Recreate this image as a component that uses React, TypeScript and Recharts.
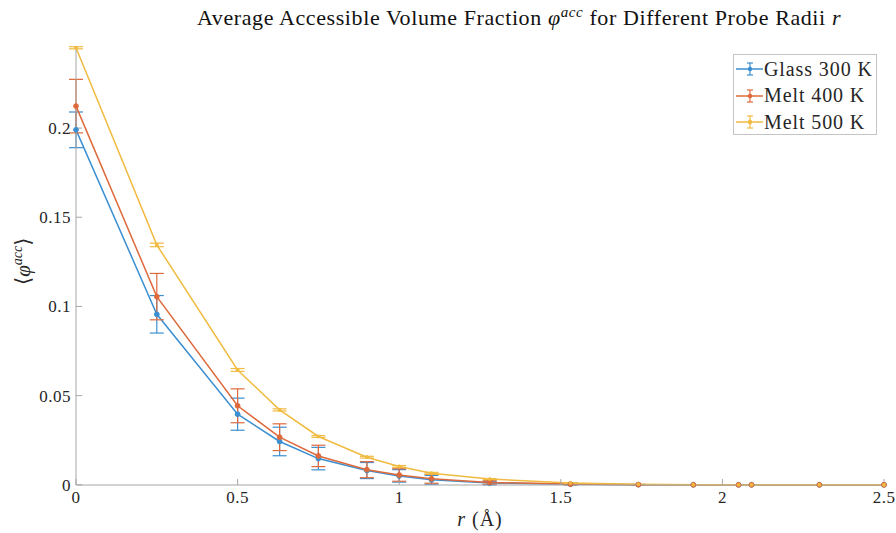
import React from "react";
import { LineChart, Line, XAxis, YAxis, ErrorBar } from "recharts";

// probe radii (Å)
const radii = [0, 0.25, 0.5, 0.63, 0.75, 0.9, 1.0, 1.1, 1.28, 1.53, 1.74, 1.91, 2.05, 2.09, 2.3, 2.5];

const glass300 = [0.199, 0.0956, 0.0396, 0.0243, 0.0147, 0.008, 0.005, 0.0028, 0.001, 0.0003, 0.0001, 0, 0, 0, 0, 0];
const glass300Err = [0.01, 0.0105, 0.009, 0.008, 0.0063, 0.0045, 0.0035, 0.0025, 0.001, 0.0004, 0.0001, 0, 0, 0, 0, 0];

const melt400 = [0.2123, 0.1055, 0.0443, 0.0267, 0.0162, 0.0085, 0.0055, 0.0034, 0.0013, 0.0004, 0.0001, 0, 0, 0, 0, 0];
const melt400Err = [0.015, 0.013, 0.0095, 0.0075, 0.006, 0.0045, 0.0035, 0.0025, 0.001, 0.0004, 0.0001, 0, 0, 0, 0, 0];

const melt500 = [0.245, 0.1345, 0.0644, 0.042, 0.0271, 0.0155, 0.0103, 0.0065, 0.0032, 0.001, 0.0003, 0.0001, 0, 0, 0, 0];
const melt500Err = [0.0006, 0.001, 0.0008, 0.0006, 0.0005, 0.0005, 0.0005, 0.0005, 0.0003, 0.0002, 0, 0, 0, 0, 0, 0];

const xTicks = [0, 0.5, 1, 1.5, 2, 2.5];
const yTicks = [0, 0.05, 0.1, 0.15, 0.2];

const series = [
  { key: "glass", label: "Glass 300 K", color: "#3b8fd1" },
  { key: "melt400", label: "Melt 400 K", color: "#de6a3c" },
  { key: "melt500", label: "Melt 500 K", color: "#f0bb40" },
];

const data = radii.map((r, i) => ({
  r,
  glass: glass300[i],
  glassErr: glass300Err[i],
  melt400: melt400[i],
  melt400Err: melt400Err[i],
  melt500: melt500[i],
  melt500Err: melt500Err[i],
}));

const FONT = "'Liberation Serif', 'DejaVu Serif', serif";
const AXIS = "#a6a6a6";
const TEXT = "#262626";

function LegendBox() {
  return (
    <div
      style={{
        position: "absolute",
        left: 733,
        top: 54,
        width: 142,
        height: 79,
        border: "1px solid #c4c4c4",
        background: "#fff",
        fontFamily: FONT,
        fontSize: 20,
        letterSpacing: 0.9,
        color: TEXT,
      }}
    >
      {series.map((s, i) => (
        <div
          key={s.key}
          style={{ position: "absolute", left: 0, top: 2 + i * 26.5, height: 24, display: "flex", alignItems: "center" }}
        >
          <svg width={30} height={24}>
            <line x1={2} x2={29} y1={12} y2={12} stroke={s.color} strokeWidth={1.5} />
            <line x1={16} x2={16} y1={6} y2={18} stroke={s.color} strokeWidth={1.2} />
            <line x1={13} x2={19} y1={6} y2={6} stroke={s.color} strokeWidth={1.2} />
            <line x1={13} x2={19} y1={18} y2={18} stroke={s.color} strokeWidth={1.2} />
            <circle cx={16} cy={12} r={2.2} fill={s.color} />
          </svg>
          <span style={{ whiteSpace: "nowrap" }}>{s.label}</span>
        </div>
      ))}
    </div>
  );
}

export default function App() {
  return (
    <div style={{ position: "absolute", left: 0, top: 0, width: 896, height: 533, background: "#fff" }}>
      <div
        style={{
          position: "absolute",
          left: 197,
          top: 4,
          fontFamily: FONT,
          fontSize: 22,
          letterSpacing: 0.6,
          color: "#111",
          whiteSpace: "nowrap",
        }}
      >
        Average Accessible Volume Fraction <i>φ</i>
        <sup style={{ fontSize: 15, fontStyle: "italic" }}>acc</sup> for Different Probe Radii <i>r</i>
      </div>

      <LineChart width={896} height={533} data={data} margin={{ top: 46, right: 12, bottom: 0, left: 0 }}>
        <XAxis
          dataKey="r"
          type="number"
          domain={[0, 2.5]}
          ticks={xTicks}
          height={48}
          stroke={AXIS}
          tickSize={-6}
          tickMargin={12}
          tick={{ fill: TEXT, fontFamily: FONT, fontSize: 17, letterSpacing: 0.5 }}
        />
        <YAxis
          type="number"
          domain={[0, 0.246]}
          ticks={yTicks}
          width={76}
          stroke={AXIS}
          tickSize={-6}
          tickMargin={11}
          tick={{ fill: TEXT, fontFamily: FONT, fontSize: 17, letterSpacing: 0.5 }}
        />
        {series.map((s) => (
          <Line
            key={s.key}
            dataKey={s.key}
            stroke={s.color}
            strokeWidth={1.5}
            dot={{ r: s.key === "melt500" ? 1.5 : 2.4, fill: s.color, stroke: s.color, strokeWidth: 1 }}
            isAnimationActive={false}
          >
            <ErrorBar
              dataKey={s.key + "Err"}
              direction="y"
              width={7}
              stroke={s.color}
              strokeWidth={1.2}
              isAnimationActive={false}
            />
          </Line>
        ))}
      </LineChart>

      <div
        style={{
          position: "absolute",
          left: 3,
          top: 265,
          transform: "translate(0, -50%) rotate(-90deg)",
          transformOrigin: "center",
          fontFamily: FONT,
          fontSize: 21,
          color: TEXT,
          width: 40,
          textAlign: "center",
          whiteSpace: "nowrap",
        }}
      >
        ⟨<i>φ</i>
        <sup style={{ fontSize: 14, fontStyle: "italic" }}>acc</sup>⟩
      </div>

      <div
        style={{
          position: "absolute",
          left: 430,
          width: 100,
          top: 508,
          textAlign: "center",
          fontFamily: FONT,
          fontSize: 20,
          letterSpacing: 1,
          color: TEXT,
        }}
      >
        <i>r</i> (Å)
      </div>

      <LegendBox />
    </div>
  );
}
